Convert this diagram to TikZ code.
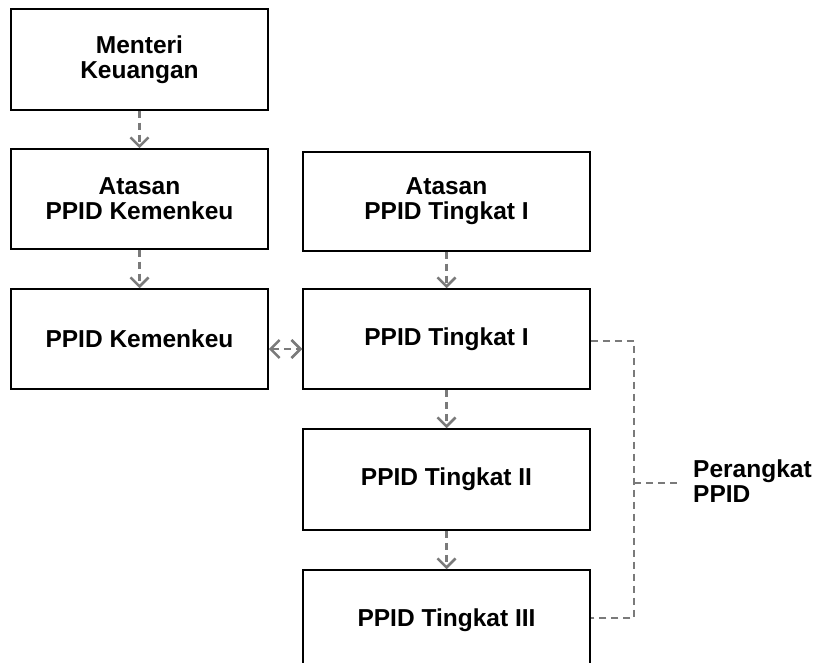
\documentclass[tikz,border=0pt]{standalone}
\usepackage{fontspec}
\setmainfont{Liberation Sans}
\usetikzlibrary{arrows.meta,calc}
\definecolor{dgray}{HTML}{7A7A7A}
\tikzset{
  box/.style={draw=black, line width=1.5pt, fill=white, rectangle, align=center,
    font=\bfseries\fontsize{24.5}{25}\selectfont, inner sep=0pt},
  kbox/.style={box, minimum width=257pt, minimum height=100pt},
  tbox/.style={box, minimum width=287pt, minimum height=100pt},
  conn/.style={draw=dgray, line width=2.5pt, dash pattern=on 7pt off 5pt},
  tip/.style={},
  arr/.style={conn, -{Straight Barb[length=9pt,width=18pt,line width=2.5pt]}},
  darr/.style={conn, {Straight Barb[length=9pt,width=18pt,line width=2.5pt]}-{Straight Barb[length=9pt,width=18pt,line width=2.5pt]}},
}
\begin{document}
\begin{tikzpicture}[x=1pt,y=-1pt]
\clip (0,0) rectangle (825,663);
\fill[white] (0,0) rectangle (825,663);
\node[kbox, minimum height=101pt] (men) at (139.5,59.5) {Menteri\\Keuangan};
\node[kbox] (akem) at (139.5,199) {Atasan\\PPID Kemenkeu};
\node[kbox] (kem) at (139.5,339) {PPID Kemenkeu};
\node[tbox, minimum height=99pt] (at1) at (446.5,201.5) {Atasan\\PPID Tingkat I};
\node[tbox] (t1) at (446.5,339) {PPID Tingkat I};
\node[tbox, minimum height=101pt] (t2) at (446.5,479.5) {PPID Tingkat II};
\node[tbox] (t3) at (446.5,620) {PPID Tingkat III};
\node[anchor=west, align=left, inner sep=0pt, font=\bfseries\fontsize{24.5}{25}\selectfont] (per) at (693,481) {Perangkat\\PPID};
\coordinate (bt) at (634,341);
\coordinate (bb) at (634,618);
\coordinate (bm) at (634,483);
\coordinate (bend) at (677,483);
\draw[arr] (men.south) -- (akem.north);
\draw[arr] (akem.south) -- (kem.north);
\draw[arr] (at1.south) -- (t1.north);
\draw[arr] (t1.south) -- (t2.north);
\draw[arr] (t2.south) -- (t3.north);
\draw[darr] ([yshift=-10pt]kem.east) -- ([yshift=-10pt]t1.west);
\draw[conn] (t1.east |- bt) -- (bt) -- (bb) -- (t3.east |- bb);
\draw[conn] (bm) -- (bend);
\end{tikzpicture}
\end{document}
